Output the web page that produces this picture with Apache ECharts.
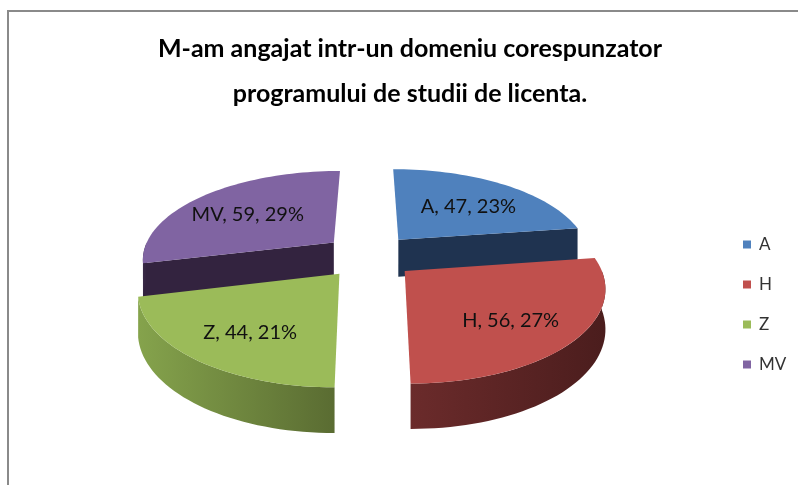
<!DOCTYPE html>
<html>
<head>
<meta charset="utf-8">
<title>M-am angajat intr-un domeniu corespunzator</title>
<script src="https://cdn.jsdelivr.net/npm/echarts@6/dist/echarts.min.js"></script>
<style>
    html, body { margin: 0; padding: 0; background: #ffffff; }
    #frame {
        position: absolute; left: 7px; top: 10px; right: 0; bottom: 0;
        border-left: 2px solid #8a8a8a; border-top: 2px solid #8a8a8a;
    }
    #chart { position: absolute; left: 0; top: 0; width: 798px; height: 485px; }
</style>
</head>
<body>
<div id="frame"></div>
<div id="chart"></div>
<script>
// Chart data
const CATEGORIES = ['A', 'H', 'Z', 'MV'];
const VALUES = [47, 56, 44, 59];

// Styles
const TOP_COLORS = ['#4f81bd', '#c0504d', '#9bbb59', '#8064a2'];
const SIDE_LIGHT = ['#24395a', '#6b2b2b', '#85a34c', '#3a2a48'];
const SIDE_DARK = ['#1f3350', '#4b1d1d', '#5a6c32', '#33233f'];
const FONT = 'Lato, "Open Sans", sans-serif';

// 3D pie geometry (pixels)
const CX = 369, CY = 256, RX = 192, RY = 92;
const PERSP = 0.17;     // near half drawn bigger than far half
const DEPTH = 38;
const EXPLODE = 0.24;   // fraction of the radius
const LABEL_R = 0.65;
const LABEL_DY = 5;

const total = VALUES.reduce((a, b) => a + b, 0);
const cum = [0];
VALUES.forEach((v, i) => cum.push(cum[i] + v));

/**
 * Project a point of the unit pie (u right, v towards viewer) onto the screen
 */
function proj(u, v, h) {
    const s = 1 + PERSP * v;
    return [CX + RX * u * s, CY + (RY * v + h) * s];
}

function arcPoints(ou, ov, a1, a2, h) {
    const pts = [];
    const steps = Math.max(2, Math.ceil((a2 - a1) / (Math.PI / 90)));
    for (let k = 0; k <= steps; k++) {
        const a = a1 + (a2 - a1) * k / steps;
        pts.push(proj(ou + Math.sin(a), ov - Math.cos(a), h));
    }
    return pts;
}

/**
 * Draw one exploded 3D slice
 */
function renderSlice(params, api) {
    const i = params.seriesIndex;
    const value = api.value(0);
    const start = cum[i] / total * Math.PI * 2;
    const end = start + value / total * Math.PI * 2;
    const mid = (start + end) / 2;
    const ou = Math.sin(mid) * EXPLODE;
    const ov = -Math.cos(mid) * EXPLODE;
    const children = [];

    const face = (a) => [
        proj(ou, ov, 0),
        proj(ou + Math.sin(a), ov - Math.cos(a), 0),
        proj(ou + Math.sin(a), ov - Math.cos(a), DEPTH),
        proj(ou, ov, DEPTH)
    ];

    // radial side faces turned towards the viewer
    if (Math.sin(start) < -0.001) {
        children.push({ type: 'polygon', z2: 1, shape: { points: face(start) }, style: { fill: SIDE_DARK[i] } });
    }
    if (Math.sin(end) > 0.001) {
        children.push({ type: 'polygon', z2: 1, shape: { points: face(end) }, style: { fill: SIDE_DARK[i] } });
    }

    // curved outer side (front half only)
    const s1 = Math.max(start, Math.PI / 2);
    const s2 = Math.min(end, Math.PI * 3 / 2);
    if (s2 > s1) {
        const topArc = arcPoints(ou, ov, s1, s2, 0);
        const bottomArc = arcPoints(ou, ov, s1, s2, DEPTH).reverse();
        children.push({
            type: 'polygon', z2: 2,
            shape: { points: topArc.concat(bottomArc) },
            style: {
                fill: new echarts.graphic.LinearGradient(0, 0, 1, 0, [
                    { offset: 0, color: SIDE_LIGHT[i] },
                    { offset: 1, color: SIDE_DARK[i] }
                ])
            }
        });
    }

    // top surface
    children.push({
        type: 'polygon', z2: 10,
        shape: { points: [proj(ou, ov, 0)].concat(arcPoints(ou, ov, start, end, 0)) },
        style: { fill: TOP_COLORS[i] }
    });

    // data label
    const lp = proj(ou + Math.sin(mid) * LABEL_R, ov - Math.cos(mid) * LABEL_R, 0);
    const pct = Math.round(value / total * 100);
    children.push({
        type: 'text', z2: 20, x: lp[0], y: lp[1] + LABEL_DY,
        style: {
            text: `${CATEGORIES[i]}, ${value}, ${pct}%`,
            fill: '#111111',
            font: `20px ${FONT}`,
            align: 'center',
            verticalAlign: 'middle'
        }
    });

    return { type: 'group', children };
}

const chart = echarts.init(document.getElementById('chart'), null, { renderer: 'canvas' });

chart.setOption({
    backgroundColor: 'transparent',
    animation: false,
    title: {
        text: 'M-am angajat intr-un domeniu corespunzator\nprogramului de studii de licenta.',
        left: 410,
        textAlign: 'center',
        top: 26,
        padding: 0,
        textStyle: {
            fontFamily: FONT,
            fontWeight: 'bold',
            fontSize: 25,
            lineHeight: 45,
            color: '#000000'
        }
    },
    legend: {
        orient: 'vertical',
        left: 738,
        top: 231,
        icon: 'rect',
        itemWidth: 8,
        itemHeight: 8,
        itemGap: 23,
        data: CATEGORIES,
        textStyle: { fontFamily: FONT, fontSize: 17, color: '#333333', padding: [0, 0, 0, 3] }
    },
    series: CATEGORIES.map((name, i) => ({
        name: name,
        type: 'custom',
        coordinateSystem: 'none',
        itemStyle: { color: TOP_COLORS[i] },
        renderItem: renderSlice,
        data: [[VALUES[i]]]
    }))
});
</script>
</body>
</html>
